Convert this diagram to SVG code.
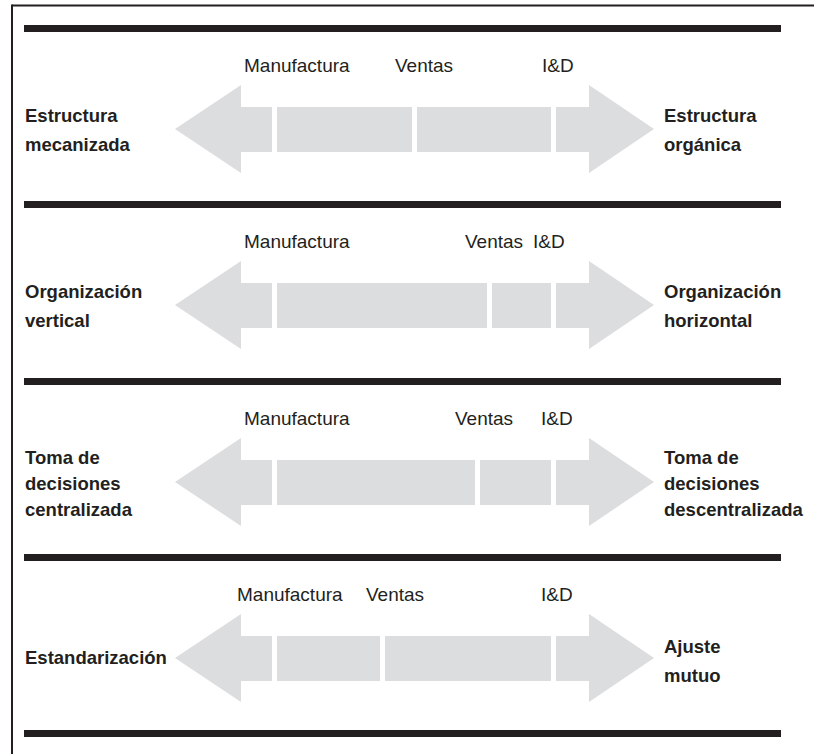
<svg xmlns="http://www.w3.org/2000/svg" width="814" height="754" viewBox="0 0 814 754">
<style>
.bar{fill:#231F20}
.sh{fill:#DCDDDF}
.lbl{font-family:"Liberation Sans",Arial,sans-serif;font-size:19px;fill:#231F20}
.end{font-family:"Liberation Sans",Arial,sans-serif;font-size:18.5px;font-weight:bold;fill:#231F20}
</style>
<rect x="0" y="0" width="814" height="754" fill="#fff"/>
<g id="frame">
<line x1="12" y1="5.5" x2="814" y2="5.5" stroke="#231F20" stroke-width="2"/>
<line x1="12" y1="4.5" x2="12" y2="754" stroke="#231F20" stroke-width="2"/>
</g>
<g id="bars">
<rect class="bar" x="24" y="25" width="757" height="7"/>
<rect class="bar" x="24" y="201" width="757" height="7"/>
<rect class="bar" x="24" y="378" width="757" height="7"/>
<rect class="bar" x="24" y="554" width="757" height="7"/>
<rect class="bar" x="24" y="730" width="757" height="7"/>
</g>
<g id="row1">
<polygon class="sh" points="175,129 241,85 241,107 272,107 272,152 241,152 241,173"/>
<rect class="sh" x="277" y="107" width="135" height="45"/>
<rect class="sh" x="417" y="107" width="134" height="45"/>
<polygon class="sh" points="556,107 589,107 589,85 654,129 589,173 589,152 556,152"/>
<text class="lbl" x="244" y="72">Manufactura</text>
<text class="lbl" x="395" y="72">Ventas</text>
<text class="lbl" x="542" y="72">I&amp;D</text>
<text class="end" x="25" y="122">Estructura</text>
<text class="end" x="25" y="150.5">mecanizada</text>
<text class="end" x="664" y="122">Estructura</text>
<text class="end" x="664" y="150.5">orgánica</text>
</g>
<g id="row2">
<polygon class="sh" points="175,305 241,261 241,283 272,283 272,328 241,328 241,349"/>
<rect class="sh" x="277" y="283" width="210" height="45"/>
<rect class="sh" x="492" y="283" width="59" height="45"/>
<polygon class="sh" points="556,283 589,283 589,261 654,305 589,349 589,328 556,328"/>
<text class="lbl" x="244" y="248">Manufactura</text>
<text class="lbl" x="465" y="248">Ventas</text>
<text class="lbl" x="533" y="248">I&amp;D</text>
<text class="end" x="25" y="298">Organización</text>
<text class="end" x="25" y="326.5">vertical</text>
<text class="end" x="664" y="298">Organización</text>
<text class="end" x="664" y="326.5">horizontal</text>
</g>
<g id="row3">
<polygon class="sh" points="175,482 241,438 241,460 272,460 272,505 241,505 241,526"/>
<rect class="sh" x="277" y="460" width="198" height="45"/>
<rect class="sh" x="480" y="460" width="71" height="45"/>
<polygon class="sh" points="556,460 589,460 589,438 654,482 589,526 589,505 556,505"/>
<text class="lbl" x="244" y="425">Manufactura</text>
<text class="lbl" x="455" y="425">Ventas</text>
<text class="lbl" x="541" y="425">I&amp;D</text>
<text class="end" x="25" y="464">Toma de</text>
<text class="end" x="25" y="490">decisiones</text>
<text class="end" x="25" y="516">centralizada</text>
<text class="end" x="664" y="464">Toma de</text>
<text class="end" x="664" y="490">decisiones</text>
<text class="end" x="664" y="516">descentralizada</text>
</g>
<g id="row4">
<polygon class="sh" points="175,658 241,614 241,636 272,636 272,681 241,681 241,702"/>
<rect class="sh" x="277" y="636" width="103" height="45"/>
<rect class="sh" x="385" y="636" width="166" height="45"/>
<polygon class="sh" points="556,636 589,636 589,614 654,658 589,702 589,681 556,681"/>
<text class="lbl" x="237" y="601">Manufactura</text>
<text class="lbl" x="366" y="601">Ventas</text>
<text class="lbl" x="541" y="601">I&amp;D</text>
<text class="end" x="25" y="664">Estandarización</text>
<text class="end" x="664" y="653">Ajuste</text>
<text class="end" x="664" y="681.5">mutuo</text>
</g>
</svg>
